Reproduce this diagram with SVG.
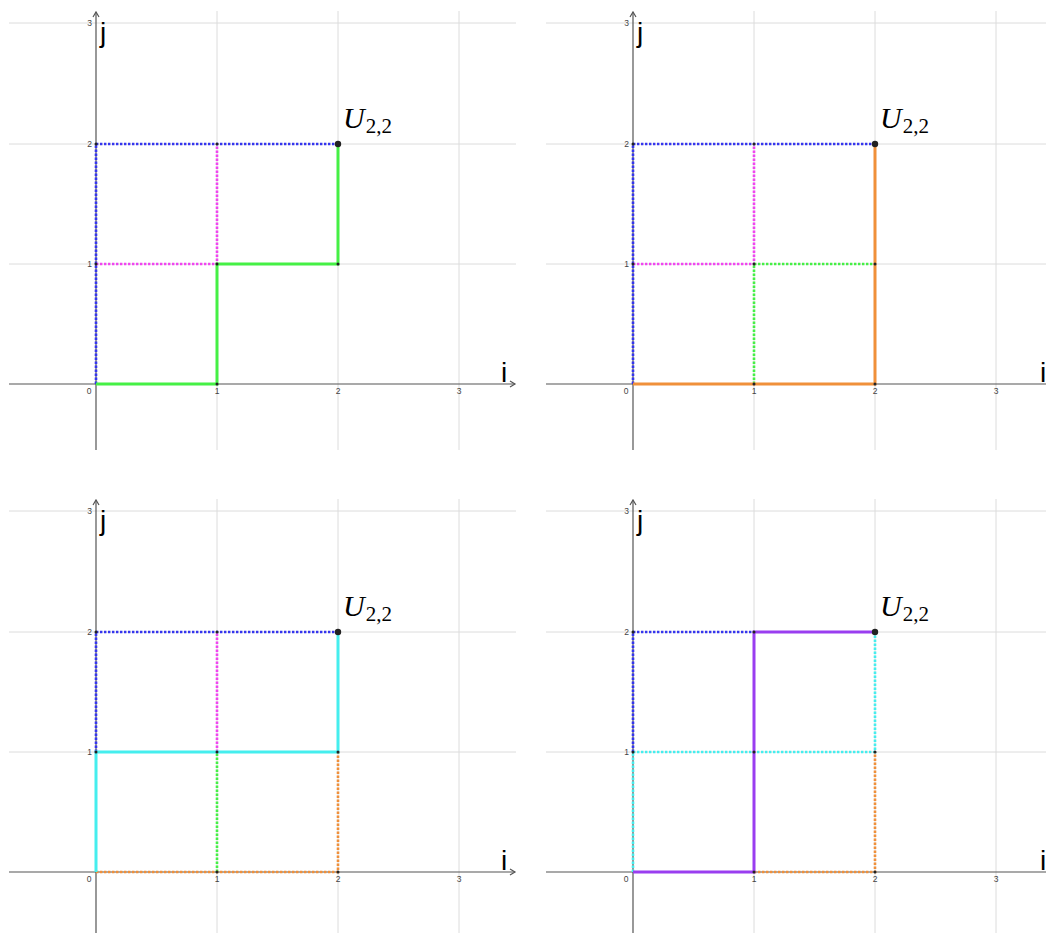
<svg xmlns="http://www.w3.org/2000/svg" xmlns:xlink="http://www.w3.org/1999/xlink" width="1046" height="933" viewBox="0 0 1046 933">
<style>
.grid{stroke:#dcdcdc;stroke-width:1;fill:none}
.axis{stroke:#555;stroke-width:1.2;fill:none}
.tick{font-family:"Liberation Sans",Arial,sans-serif;font-size:8.5px;fill:#444}
.lbl{font-family:"Liberation Sans",Arial,sans-serif;font-size:28px;fill:#000}
.u{font-family:"Liberation Serif","Times New Roman",serif;fill:#000}
.dot{stroke-width:2.6;stroke-dasharray:2.4 1.6;fill:none}
.sol{stroke-width:3;fill:none;stroke-linejoin:miter}
.blue{stroke:#3535ee}
.mag{stroke:#f045f0}
.grn{stroke:#45f045}
.org{stroke:#f0903a}
.cyn{stroke:#45eeee}
.pur{stroke:#9a3ef0}
.pt{fill:#222}
</style>
<defs>
<g id="frame">
<path class="grid" d="M217 11V450M338 11V450M459 11V450M9 264H516M9 144H516M9 23H516"/>
<path class="axis" d="M96 450V12M9 384H515"/>
<path class="axis" d="M93 17L96 12L99 17M510 381L515 384L510 387"/>
<text class="tick" x="89" y="394" text-anchor="middle">0</text>
<text class="tick" x="217" y="394" text-anchor="middle">1</text>
<text class="tick" x="338" y="394" text-anchor="middle">2</text>
<text class="tick" x="459" y="394" text-anchor="middle">3</text>
<text class="tick" x="92" y="267" text-anchor="end">1</text>
<text class="tick" x="92" y="147" text-anchor="end">2</text>
<text class="tick" x="92" y="26" text-anchor="end">3</text>
<text class="lbl" x="100" y="42">j</text>
<text class="u" x="343" y="128" font-size="30" font-style="italic">U<tspan font-style="normal" font-size="21" dy="5" dx="1">2,2</tspan></text>
</g>
<g id="pts">
<circle class="pt" cx="217" cy="384" r="1.5"/>
<circle class="pt" cx="96" cy="264" r="1.5"/><circle class="pt" cx="217" cy="264" r="1.5"/><circle class="pt" cx="338" cy="264" r="1.5"/>
<circle class="pt" cx="96" cy="144" r="1.5"/><circle class="pt" cx="217" cy="144" r="1.5"/>
<circle class="pt" cx="338" cy="144" r="3.2"/>
</g>
</defs>
<g id="panel1">
<use xlink:href="#frame"/>
<text class="lbl" x="501" y="382">i</text>
<g id="connectors1">
<path class="dot blue" d="M96 384V144H338"/>
<path class="dot mag" d="M96 264H217V144"/>
<path class="sol grn" d="M96 384H217V264H338V144"/>
</g>
<use xlink:href="#pts"/>
</g>
<g id="panel2" transform="translate(537,0)">
<use xlink:href="#frame"/>
<text class="lbl" x="503" y="382">i</text>
<g id="connectors2">
<path class="dot blue" d="M96 384V144H338"/>
<path class="dot mag" d="M96 264H217V144"/>
<path class="dot grn" d="M217 384V264H338"/>
<path class="sol org" d="M96 384H338V144"/>
</g>
<use xlink:href="#pts"/>
<circle class="pt" cx="338" cy="384" r="1.5"/>
</g>
<g id="panel3" transform="translate(0,488)">
<use xlink:href="#frame"/>
<text class="lbl" x="501" y="382">i</text>
<g id="connectors3">
<path class="dot blue" d="M96 264V144H338"/>
<path class="dot mag" d="M217 264V144"/>
<path class="dot grn" d="M217 384V264"/>
<path class="dot org" d="M96 384H338V264"/>
<path class="sol cyn" d="M96 384V264H338V144"/>
</g>
<use xlink:href="#pts"/>
<circle class="pt" cx="338" cy="384" r="1.5"/>
</g>
<g id="panel4" transform="translate(537,488)">
<use xlink:href="#frame"/>
<text class="lbl" x="503" y="382">i</text>
<g id="connectors4">
<path class="dot blue" d="M96 264V144H217"/>
<path class="dot cyn" d="M96 384V264H338V144"/>
<path class="dot org" d="M217 384H338V264"/>
<path class="sol pur" d="M96 384H217V144H338"/>
</g>
<use xlink:href="#pts"/>
<circle class="pt" cx="338" cy="384" r="1.5"/>
</g>
</svg>
